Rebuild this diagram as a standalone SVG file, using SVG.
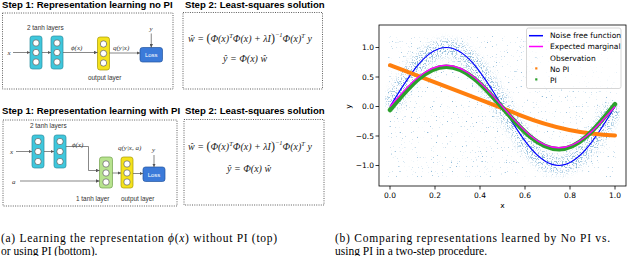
<svg xmlns="http://www.w3.org/2000/svg" width="640" height="256" viewBox="0 0 640 256">
<defs>
<style>
.ttl{font-family:"Liberation Sans",Arial,sans-serif;font-weight:bold;font-size:9.6px;fill:#000}
.box{fill:none;stroke:#333;stroke-width:0.8;stroke-dasharray:1 1.3}
.lbl{font-family:"Liberation Sans",Arial,sans-serif;font-size:6.4px;fill:#333}
.mth{font-family:"Liberation Serif","Times New Roman",serif;font-style:italic;font-size:7px;fill:#333}
.cy{fill:#3fc7dc;stroke:#2b8e9e;stroke-width:0.7}
.ye{fill:#f4e21c;stroke:#a89800;stroke-width:0.7}
.gr{fill:#b7e38e;stroke:#71a04c;stroke-width:0.7}
.nd{fill:#fff;stroke:#444;stroke-width:0.6}
.loss{fill:#3b7ad9;stroke:#23559f;stroke-width:0.7}
.lt{font-family:"Liberation Sans",Arial,sans-serif;font-size:6px;fill:#fff;text-anchor:middle}
.cn{fill:none;stroke:#555;stroke-width:0.7;marker-end:url(#ah)}
.eq{font-family:"Liberation Serif","Times New Roman",serif;font-style:italic;font-size:10px;fill:#222}
.sup{font-size:6.5px}
.big{font-size:12px;font-style:normal}
.cap{font-family:"Liberation Serif","Times New Roman",serif;font-size:11.5px;fill:#000}
.tk{font-family:"DejaVu Sans",sans-serif;font-size:7.5px;fill:#000}
.tkr{text-anchor:end}
.tkc{text-anchor:middle}
.ax{stroke:#000;stroke-width:0.8;fill:none}
.crv{fill:none}
</style>
<marker id="ah" viewBox="0 0 6 6" refX="6" refY="3" markerWidth="3.5" markerHeight="3.5" markerUnits="userSpaceOnUse" orient="auto"><path d="M0,0 L6,3 L0,6 z" fill="#555"/></marker>
<filter id="dotsA" filterUnits="userSpaceOnUse" primitiveUnits="userSpaceOnUse" x="388" y="36" width="229" height="141" color-interpolation-filters="sRGB">
<feTurbulence type="fractalNoise" baseFrequency="0.8" numOctaves="1" seed="11"/>
<feColorMatrix type="matrix" values="0 0 0 0 0.12 0 0 0 0 0.47 0 0 0 0 0.71 10 0 0 0 -6.8"/>
</filter>
<filter id="dotsB" filterUnits="userSpaceOnUse" primitiveUnits="userSpaceOnUse" x="385" y="25" width="235" height="160" color-interpolation-filters="sRGB">
<feTurbulence type="fractalNoise" baseFrequency="0.8" numOctaves="1" seed="29"/>
<feColorMatrix type="matrix" values="0 0 0 0 0.12 0 0 0 0 0.47 0 0 0 0 0.71 10 0 0 0 -5.2"/>
</filter>
<filter id="blr" x="-0.2" y="-0.5" width="1.4" height="2"><feGaussianBlur stdDeviation="3"/></filter>
<mask id="band" maskUnits="userSpaceOnUse" x="380" y="20" width="250" height="170">
<path d="M390,106.5 C409.78,73.91 426.47,47.5 446.25,47.5 C466.03,47.5 482.72,73.91 502.5,106.5 C522.28,139.09 538.97,165.5 558.75,165.5 C578.53,165.5 595.22,139.09 615,106.5" fill="none" stroke="#fff" stroke-width="16" filter="url(#blr)"/>
</mask>
</defs>

<!-- Titles and frames -->
<g id="titles">
<text class="ttl" x="2" y="8">Step 1: Representation learning no PI</text>
<text class="ttl" x="185" y="8">Step 2: Least-squares solution</text>
<text class="ttl" x="2" y="114">Step 1: Representation learning with PI</text>
<text class="ttl" x="185" y="114">Step 2: Least-squares solution</text>
</g>
<g id="frames">
<rect class="box" x="2.5" y="13" width="170.5" height="76"/>
<rect class="box" x="183" y="12.5" width="139.5" height="76.5"/>
<rect class="box" x="3" y="120" width="174" height="86"/>
<rect class="box" x="184" y="119.5" width="140" height="85.5"/>
</g>

<!-- Top diagram nodes -->
<g id="top-tanh1"><rect class="cy" x="30" y="36" width="12" height="33" rx="2.5"/><circle class="nd" cx="36" cy="43" r="3.2"/><circle class="nd" cx="36" cy="52.5" r="3.2"/><circle class="nd" cx="36" cy="62" r="3.2"/></g>
<g id="top-tanh2"><rect class="cy" x="51" y="36" width="12" height="33" rx="2.5"/><circle class="nd" cx="57" cy="43" r="3.2"/><circle class="nd" cx="57" cy="52.5" r="3.2"/><circle class="nd" cx="57" cy="62" r="3.2"/></g>
<g id="top-output"><rect class="ye" x="97.5" y="37" width="12" height="33" rx="2.5"/><circle class="nd" cx="103.5" cy="44" r="3.2"/><circle class="nd" cx="103.5" cy="53.5" r="3.2"/><circle class="nd" cx="103.5" cy="63" r="3.2"/></g>
<g id="top-loss"><rect class="loss" x="140" y="47.5" width="22.5" height="14.5" rx="2.5"/><text class="lt" x="151.25" y="57">Loss</text></g>
<g id="top-labels">
<text class="lbl" x="27" y="30">2 tanh layers</text>
<text class="lbl" x="88" y="80">output layer</text>
<text class="mth" x="7.5" y="54.5">x</text>
<text class="mth" x="149.5" y="31">y</text>
<text class="mth" x="71" y="50">ϕ(x)</text>
<text class="mth" x="113" y="50">q(y|x)</text>
</g>
<g id="top-connectors">
<path class="cn" d="M13,52.5 H30"/>
<path class="cn" d="M42,52.5 H51"/>
<path class="cn" d="M63,52.5 H97.5"/>
<path class="cn" d="M109.5,53 H140"/>
<path class="cn" d="M151.25,33.5 V47.5"/>
</g>

<!-- Bottom diagram nodes -->
<g id="bot-tanh1"><rect class="cy" x="32" y="135" width="12" height="33" rx="2.5"/><circle class="nd" cx="38" cy="141.5" r="3.2"/><circle class="nd" cx="38" cy="151.5" r="3.2"/><circle class="nd" cx="38" cy="161.5" r="3.2"/></g>
<g id="bot-tanh2"><rect class="cy" x="54" y="135" width="12" height="33" rx="2.5"/><circle class="nd" cx="60" cy="141.5" r="3.2"/><circle class="nd" cx="60" cy="151.5" r="3.2"/><circle class="nd" cx="60" cy="161.5" r="3.2"/></g>
<g id="bot-tanh3"><rect class="gr" x="99.5" y="157" width="13" height="31" rx="2.5"/><circle class="nd" cx="106" cy="164" r="3.2"/><circle class="nd" cx="106" cy="173" r="3.2"/><circle class="nd" cx="106" cy="182" r="3.2"/></g>
<g id="bot-output"><rect class="ye" x="121" y="157" width="12" height="31" rx="2.5"/><circle class="nd" cx="127" cy="164" r="3.2"/><circle class="nd" cx="127" cy="173" r="3.2"/><circle class="nd" cx="127" cy="182" r="3.2"/></g>
<g id="bot-loss"><rect class="loss" x="143" y="167" width="22" height="14.5" rx="2.5"/><text class="lt" x="154" y="176.5">Loss</text></g>
<g id="bot-labels">
<text class="lbl" x="30" y="127.5">2 tanh layers</text>
<text class="lbl" x="76" y="200.5">1 tanh layer</text>
<text class="lbl" x="121" y="200.5">output layer</text>
<text class="mth" x="10" y="154">x</text>
<text class="mth" x="12" y="183.5">a</text>
<text class="mth" x="152" y="151.5">y</text>
<text class="mth" x="72" y="147">ϕ(x)</text>
<text class="mth" x="118" y="150">q(y|x, a)</text>
</g>
<g id="bot-connectors">
<path class="cn" d="M16,151.5 H32"/>
<path class="cn" d="M44,151.5 H54"/>
<path class="cn" d="M66,146.5 H88.5 V170.5 H99.5"/>
<path class="cn" d="M20,181 H99.5"/>
<path class="cn" d="M112.5,173 H121"/>
<path class="cn" d="M133,173.5 H143"/>
<path class="cn" d="M154,155 V167"/>
</g>

<!-- Equations -->
<g id="eq-top">
<text class="eq" x="188" y="42">ŵ = <tspan class="big">(</tspan>Φ(x)<tspan class="sup" dy="-4">T</tspan><tspan dy="4">Φ(x) + λI</tspan><tspan class="big">)</tspan><tspan class="sup" dy="-5">−1</tspan><tspan dy="5">Φ(x)</tspan><tspan class="sup" dy="-4">T</tspan><tspan dy="4"> y</tspan></text>
<text class="eq" x="223" y="62">ŷ = Φ(x) ŵ</text>
</g>
<g id="eq-bot">
<text class="eq" x="188" y="150">ŵ = <tspan class="big">(</tspan>Φ(x)<tspan class="sup" dy="-4">T</tspan><tspan dy="4">Φ(x) + λI</tspan><tspan class="big">)</tspan><tspan class="sup" dy="-5">−1</tspan><tspan dy="5">Φ(x)</tspan><tspan class="sup" dy="-4">T</tspan><tspan dy="4"> y</tspan></text>
<text class="eq" x="227" y="172">ŷ = Φ(x) ŵ</text>
</g>

<!-- Captions -->
<g id="captions">
<text class="cap" x="1" y="241.5" textLength="276" lengthAdjust="spacing">(a) Learning the representation <tspan font-style="italic">ϕ</tspan>(<tspan font-style="italic">x</tspan>) without PI (top)</text>
<text class="cap" x="1" y="254.5">or using PI (bottom).</text>
<text class="cap" x="335" y="241.5" textLength="275" lengthAdjust="spacing">(b) Comparing representations learned by No PI vs.</text>
<text class="cap" x="335" y="254.5">using PI in a two-step procedure.</text>
</g>

<!-- Plot -->
<g id="plot">
<rect x="388" y="36" width="229" height="141" fill="#000" filter="url(#dotsA)" opacity="0.5"/>
<rect x="385" y="25" width="235" height="160" fill="#000" filter="url(#dotsB)" mask="url(#band)" opacity="0.5"/>
<path class="crv" stroke="#0000ff" stroke-width="1.2" d="M390,106.5 C409.78,73.91 426.47,47.5 446.25,47.5 C466.03,47.5 482.72,73.91 502.5,106.5 C522.28,139.09 538.97,165.5 558.75,165.5 C578.53,165.5 595.22,139.09 615,106.5"/>
<path class="crv" stroke="#ff7f0e" stroke-width="4" stroke-linecap="round" d="M390,65.2 C435,82.31 491.25,103.55 520.5,115.35 C547.5,125.97 581.25,134.23 615,135.41"/>
<path class="crv" stroke="#2ca02c" stroke-width="4.5" stroke-linecap="round" d="M390,110.04 C409.78,86.09 426.47,66.67 446.25,66.67 C466.03,66.67 482.72,85.03 502.5,107.68 C522.28,130.66 538.97,149.28 558.75,149.28 C578.53,149.28 595.22,129.07 615,104.14"/>
<path class="crv" stroke="#ff00ff" stroke-width="1.4" d="M390,106.5 C409.78,83.69 426.47,65.2 446.25,65.2 C466.03,65.2 482.72,83.69 502.5,106.5 C522.28,129.31 538.97,147.8 558.75,147.8 C578.53,147.8 595.22,129.31 615,106.5"/>
<rect class="ax" x="379" y="25" width="247" height="161"/>
<path class="ax" d="M375.5,47.5 H379 M375.5,77 H379 M375.5,106.5 H379 M375.5,136 H379 M375.5,165.5 H379 M390,186 V189.5 M435,186 V189.5 M480,186 V189.5 M525,186 V189.5 M570,186 V189.5 M615,186 V189.5"/>
<text class="tk tkr" x="374" y="50.2">1.0</text>
<text class="tk tkr" x="374" y="79.7">0.5</text>
<text class="tk tkr" x="374" y="109.2">0.0</text>
<text class="tk tkr" x="374" y="138.7">−0.5</text>
<text class="tk tkr" x="374" y="168.2">−1.0</text>
<text class="tk tkc" x="390" y="197.5">0.0</text>
<text class="tk tkc" x="435" y="197.5">0.2</text>
<text class="tk tkc" x="480" y="197.5">0.4</text>
<text class="tk tkc" x="525" y="197.5">0.6</text>
<text class="tk tkc" x="570" y="197.5">0.8</text>
<text class="tk tkc" x="615" y="197.5">1.0</text>
<text class="tk tkc" x="502.5" y="207.5">x</text>
<text class="tk tkc" transform="translate(351,106.5) rotate(-90)">y</text>
</g>
<g id="legend">
<rect x="526.5" y="28" width="94.5" height="60.5" rx="2" fill="#fff" fill-opacity="0.8" stroke="#ccc" stroke-width="0.8"/>
<path d="M529,35.7 H543" stroke="#0000ff" stroke-width="1.5"/>
<path d="M529,46.5 H543" stroke="#ff00ff" stroke-width="1.5"/>
<circle cx="536" cy="57.5" r="0.6" fill="#1f77b4" opacity="0.4"/>
<rect x="535.2" y="67.3" width="2.2" height="2.2" fill="#ff7f0e"/>
<rect x="535.2" y="78.3" width="2.2" height="2.2" fill="#2ca02c"/>
<text class="tk" x="550" y="38.3">Noise free function</text>
<text class="tk" x="550" y="49.3">Expected marginal</text>
<text class="tk" x="550" y="60.5">Observation</text>
<text class="tk" x="550" y="71.5">No PI</text>
<text class="tk" x="550" y="82.5">PI</text>
</g>
</svg>
